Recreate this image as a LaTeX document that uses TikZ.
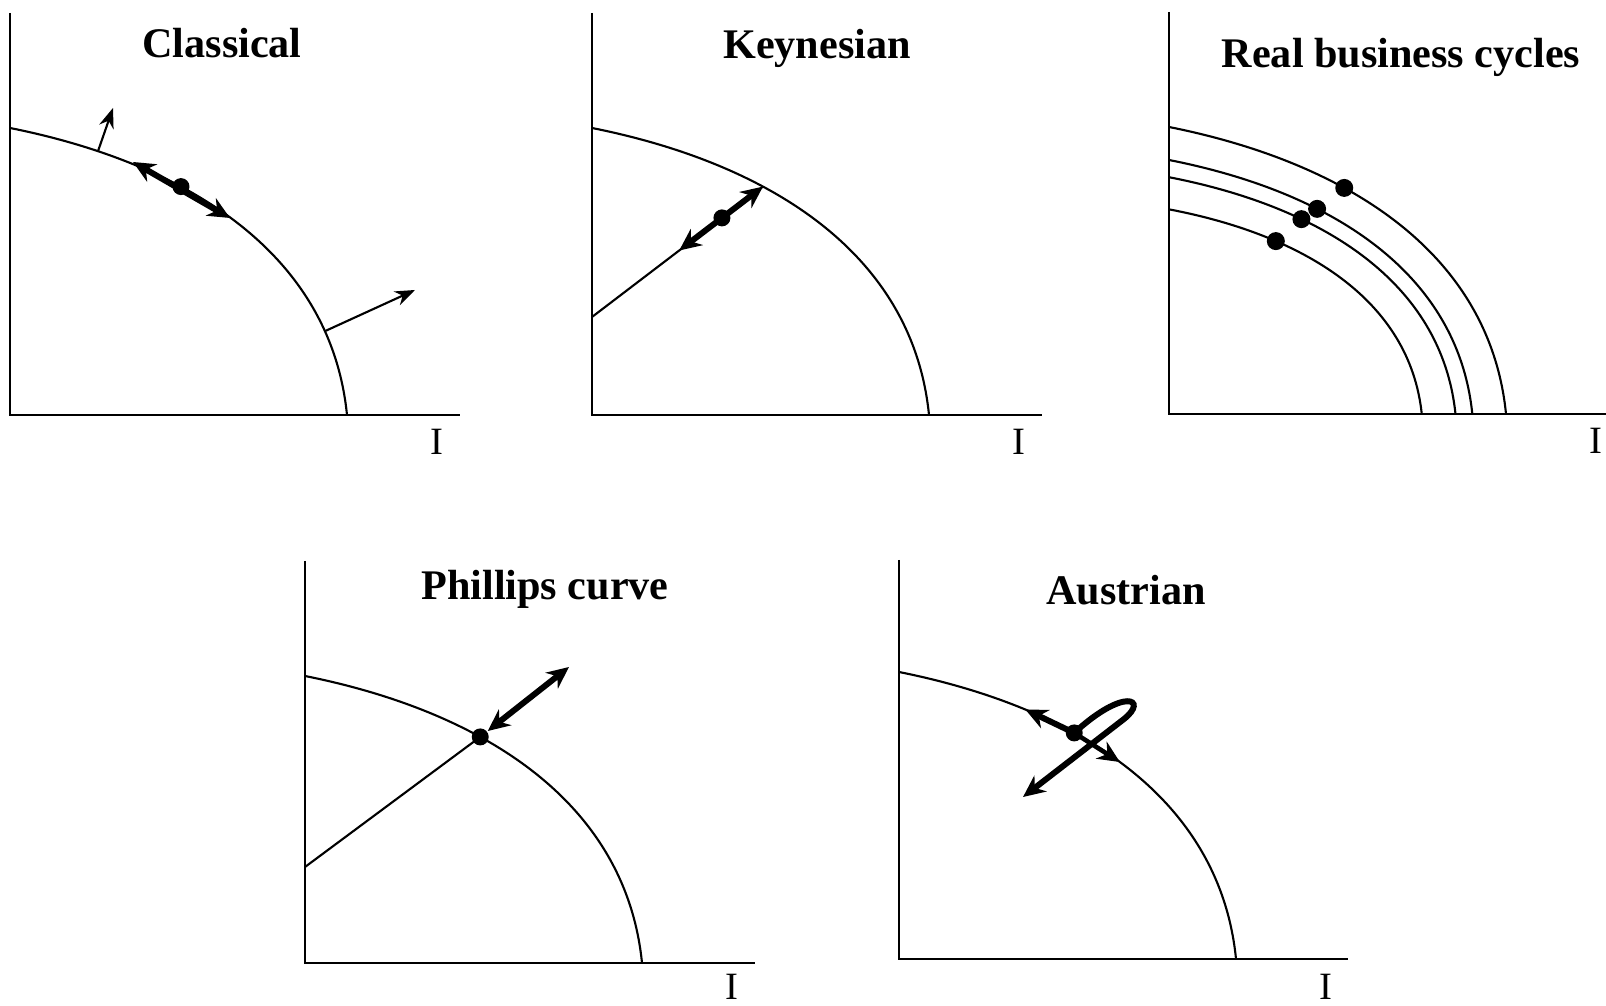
\documentclass[tikz,border=0pt]{standalone}
\usepackage{fontspec}
\setmainfont{Liberation Serif}
\usetikzlibrary{arrows.meta, positioning}

\newcommand{\frontier}{(0,2.87) .. controls (1.8,2.51) and (3.21,1.6) .. (3.37,0)}

\begin{document}
\begin{tikzpicture}[
  axis/.style={line width=0.65pt},
  ppf/.style={line width=0.6pt},
  arr/.style={-{Stealth[length=2mm, width=1.5mm]}, line width=0.6pt},
  bigarr/.style={-{Stealth[length=2.2mm, width=2mm]}, line width=1.7pt},
  dblarr/.style={{Stealth[length=2.2mm, width=2mm]}-{Stealth[length=2.2mm, width=2mm]}, line width=1.7pt},
  dot/.style={circle, fill, inner sep=0pt, minimum size=1.7mm},
  title/.style={anchor=base, font=\bfseries\fontsize{12}{14}\selectfont},
  lab/.style={anchor=base, font=\fontsize{11}{13}\selectfont}
]
  \useasboundingbox (0,0) rectangle (16.06,10.05);

  % Classical
  \begin{scope}[shift={(0.10,5.90)}]
    \draw[axis] (0,4.02) -- (0,0) -- (4.5,0);
    \draw[ppf] \frontier
      coordinate[pos=0.17] (c1) coordinate[pos=0.81] (c2)
      node[dot, pos=0.35] (cdot) {};
    \node[title] (classical) at (2.12,3.57) {Classical};
    \node[lab] (cI) at (4.27,-0.40) {I};
    \coordinate (c1end) at (1.03,3.07);
    \coordinate (c2end) at (4.05,1.25);
    \coordinate (cl) at (1.23,2.53);
    \coordinate (cr) at (2.20,1.97);
    \draw[arr] (c1) -- (c1end);
    \draw[arr] (c2) -- (c2end);
    \draw[dblarr] (cl) -- (cr);
  \end{scope}

  % Keynesian
  \begin{scope}[shift={(5.92,5.90)}]
    \draw[axis] (0,4.02) -- (0,0) -- (4.5,0);
    \draw[ppf] \frontier coordinate[pos=0.35] (k1);
    \node[title] (keynesian) at (2.25,3.56) {Keynesian};
    \node[lab] (kI) at (4.27,-0.40) {I};
    \coordinate (k0) at (0,0.98);
    \draw[ppf] (k0) -- (k1)
      coordinate[pos=0.51] (k2) node[dot, pos=0.76] (kdot) {};
    \draw[dblarr] (k2) -- (k1);
  \end{scope}

  % Real business cycles
  \begin{scope}[shift={(11.69,5.91)}]
    \draw[axis] (0,4.02) -- (0,0) -- (4.37,0);
    \draw[ppf] \frontier node[dot, minimum size=1.8mm, pos=0.36] (r1) {};
    \begin{scope}[xscale=0.90, yscale=0.885]
      \draw[ppf] \frontier node[dot, minimum size=1.8mm, pos=0.335] (r2) {};
    \end{scope}
    \begin{scope}[xscale=0.85, yscale=0.825]
      \draw[ppf] \frontier node[dot, minimum size=1.8mm, pos=0.315] (r3) {};
    \end{scope}
    \begin{scope}[xscale=0.75, yscale=0.713]
      \draw[ppf] \frontier node[dot, minimum size=1.8mm, pos=0.285] (r4) {};
    \end{scope}
    \node[title] (rbc) at (2.32,3.46) {Real business cycles};
    \node[lab] (rI) at (4.27,-0.40) {I};
  \end{scope}

  % Phillips curve
  \begin{scope}[shift={(3.05,0.42)}]
    \draw[axis] (0,4.02) -- (0,0) -- (4.5,0);
    \draw[ppf] \frontier node[dot, pos=0.36] (pdot) {};
    \node[title] (phillips) at (2.40,3.63) {Phillips curve};
    \node[lab] (pI) at (4.27,-0.36) {I};
    \coordinate (p0) at (0,0.96);
    \coordinate (p1) at (2.64,2.96);
    \draw[ppf] (p0) -- (pdot.center);
    \draw[dblarr] (pdot) -- (p1);
  \end{scope}

  % Austrian
  \begin{scope}[shift={(8.99,0.46)}]
    \draw[axis] (0,3.99) -- (0,0) -- (4.49,0);
    \draw[ppf] \frontier
      coordinate[pos=0.25] (a1) coordinate[pos=0.475] (a2)
      node[dot, pos=0.36] (adot) {};
    \node[title] (austrian) at (2.27,3.54) {Austrian};
    \node[lab] (aI) at (4.27,-0.40) {I};
    \coordinate (a3) at (1.24,1.62);
    \draw[bigarr] (adot.center) -- (a1);
    \draw[bigarr, line width=1.3pt] (adot.center) -- (a2);
    \draw[bigarr] (adot.center) .. controls (2.25,2.72) and (2.5,2.6) .. (2.25,2.40) -- (a3);
  \end{scope}
\end{tikzpicture}
\end{document}
